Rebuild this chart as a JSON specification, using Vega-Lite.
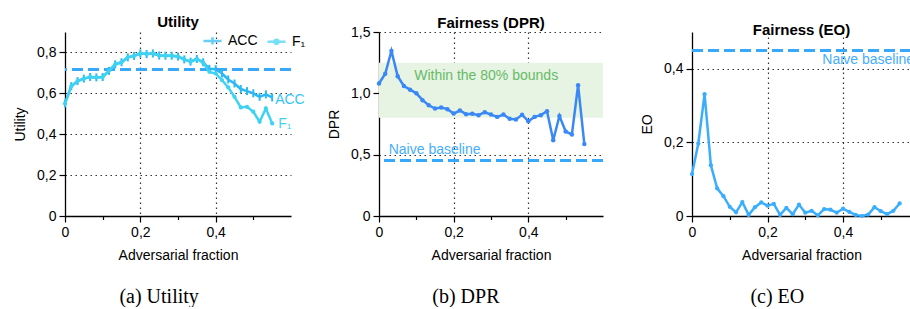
{
  "$schema": "https://vega.github.io/schema/vega-lite/v6.json",
  "background": "white",
  "padding": {"left": 13, "top": 15, "right": 0, "bottom": 0},
  "datasets": {
    "d": [
      {"x": 0, "acc": 0.55, "f1": 0.55, "dpr": 1.08, "eo": 0.114},
      {"x": 0.0167, "acc": 0.635, "f1": 0.635, "dpr": 1.16, "eo": 0.197},
      {"x": 0.0333, "acc": 0.66, "f1": 0.66, "dpr": 1.345, "eo": 0.331},
      {"x": 0.05, "acc": 0.672, "f1": 0.672, "dpr": 1.14, "eo": 0.138},
      {"x": 0.0667, "acc": 0.68, "f1": 0.68, "dpr": 1.06, "eo": 0.075},
      {"x": 0.0833, "acc": 0.678, "f1": 0.678, "dpr": 1.03, "eo": 0.054},
      {"x": 0.1, "acc": 0.68, "f1": 0.68, "dpr": 1.0, "eo": 0.025},
      {"x": 0.1167, "acc": 0.71, "f1": 0.71, "dpr": 0.944, "eo": 0.01},
      {"x": 0.1333, "acc": 0.742, "f1": 0.742, "dpr": 0.903, "eo": 0.038},
      {"x": 0.15, "acc": 0.752, "f1": 0.752, "dpr": 0.876, "eo": 0.003},
      {"x": 0.1667, "acc": 0.776, "f1": 0.776, "dpr": 0.884, "eo": 0.024},
      {"x": 0.1833, "acc": 0.783, "f1": 0.783, "dpr": 0.871, "eo": 0.037},
      {"x": 0.2, "acc": 0.795, "f1": 0.795, "dpr": 0.835, "eo": 0.028},
      {"x": 0.2167, "acc": 0.792, "f1": 0.792, "dpr": 0.86, "eo": 0.033},
      {"x": 0.2333, "acc": 0.795, "f1": 0.795, "dpr": 0.83, "eo": 0.003},
      {"x": 0.25, "acc": 0.785, "f1": 0.785, "dpr": 0.833, "eo": 0.022},
      {"x": 0.2667, "acc": 0.784, "f1": 0.784, "dpr": 0.822, "eo": 0.005},
      {"x": 0.2833, "acc": 0.784, "f1": 0.784, "dpr": 0.846, "eo": 0.031},
      {"x": 0.3, "acc": 0.78, "f1": 0.78, "dpr": 0.827, "eo": 0.009},
      {"x": 0.3167, "acc": 0.766, "f1": 0.766, "dpr": 0.808, "eo": 0.014},
      {"x": 0.3333, "acc": 0.755, "f1": 0.755, "dpr": 0.827, "eo": 0.002},
      {"x": 0.35, "acc": 0.768, "f1": 0.768, "dpr": 0.792, "eo": 0.019},
      {"x": 0.3667, "acc": 0.752, "f1": 0.75, "dpr": 0.787, "eo": 0.017},
      {"x": 0.3833, "acc": 0.72, "f1": 0.705, "dpr": 0.825, "eo": 0.009},
      {"x": 0.4, "acc": 0.718, "f1": 0.697, "dpr": 0.773, "eo": 0.02},
      {"x": 0.4167, "acc": 0.697, "f1": 0.665, "dpr": 0.808, "eo": 0.011},
      {"x": 0.4333, "acc": 0.668, "f1": 0.629, "dpr": 0.822, "eo": 0.003},
      {"x": 0.45, "acc": 0.648, "f1": 0.583, "dpr": 0.854, "eo": 0.0},
      {"x": 0.4667, "acc": 0.621, "f1": 0.531, "dpr": 0.618, "eo": 0.004},
      {"x": 0.4833, "acc": 0.611, "f1": 0.534, "dpr": 0.816, "eo": 0.024},
      {"x": 0.5, "acc": 0.6, "f1": 0.51, "dpr": 0.689, "eo": 0.013},
      {"x": 0.5167, "acc": 0.583, "f1": 0.461, "dpr": 0.665, "eo": 0.005},
      {"x": 0.5333, "acc": 0.595, "f1": 0.526, "dpr": 1.066, "eo": 0.014},
      {"x": 0.55, "acc": 0.58, "f1": 0.453, "dpr": 0.586, "eo": 0.034}
    ]
  },
  "spacing": 22,
  "hconcat": [
    {
      "title": {"text": "(a) Utility", "orient": "bottom", "anchor": "middle", "frame": "bounds", "font": "Liberation Serif", "fontSize": 20, "fontWeight": "normal", "offset": 25, "color": "black"},
      "vconcat": [
        {
          "title": {"text": "Utility", "anchor": "middle", "frame": "group", "fontSize": 15, "fontWeight": "bold", "offset": 2},
          "width": 226,
          "height": 184,
          "data": {"name": "d"},
          "layer": [
            {
              "mark": {"type": "line", "color": "#2cb8f3", "strokeWidth": 2.5},
              "encoding": {
                "x": {"field": "x", "type": "quantitative", "title": "Adversarial fraction", "scale": {"domain": [0, 0.6], "nice": false, "zero": false},
                  "axis": {"values": [0, 0.1, 0.2, 0.3, 0.4, 0.5], "labelOverlap": false, "labelFlush": false, "grid": true,
                    "labelExpr": "round(datum.value*10)%2==0 ? (datum.value==0 ? '0' : replace(format(datum.value,'.1f'),'.',',')) : ''",
                    "tickSize": {"condition": {"test": "round(datum.value*10)%2==0", "value": 6}, "value": 3.5},
                    "gridOpacity": {"condition": {"test": "round(datum.value*10)%2==0 && datum.value>0", "value": 1}, "value": 0}}},
                "y": {"field": "acc", "type": "quantitative", "title": "Utility", "scale": {"domain": [0, 0.9], "nice": false},
                  "axis": {"values": [0, 0.1, 0.2, 0.3, 0.4, 0.5, 0.6, 0.7, 0.8, 0.9], "labelOverlap": false, "labelFlush": false, "grid": true,
                    "labelExpr": "round(datum.value*10)%2==0 ? (datum.value==0 ? '0' : replace(format(datum.value,'.1f'),'.',',')) : ''",
                    "tickSize": {"condition": {"test": "round(datum.value*10)%2==0", "value": 6}, "value": 3.5},
                    "gridOpacity": {"condition": {"test": "round(datum.value*10)%2==0 && datum.value>0", "value": 1}, "value": 0}}}
              }
            },
            {
              "mark": {"type": "rule", "color": "#38a8fa", "strokeWidth": 2.5, "strokeDash": [11, 5]},
              "encoding": {"y": {"datum": 0.715, "type": "quantitative"}}
            },
            {
              "mark": {"type": "point", "shape": "M0,-1V1", "filled": false, "size": 64, "strokeWidth": 2, "color": "#2cb8f3", "opacity": 1},
              "encoding": {
                "x": {"field": "x", "type": "quantitative", "title": "Adversarial fraction"},
                "y": {"field": "acc", "type": "quantitative", "title": "Utility"}
              }
            },
            {
              "mark": {"type": "line", "color": "#3dd3f3", "strokeWidth": 2.5},
              "encoding": {
                "x": {"field": "x", "type": "quantitative", "title": "Adversarial fraction"},
                "y": {"field": "f1", "type": "quantitative", "title": "Utility"}
              }
            },
            {
              "mark": {"type": "point", "filled": true, "size": 18, "color": "#3dd3f3", "opacity": 1},
              "encoding": {
                "x": {"field": "x", "type": "quantitative", "title": "Adversarial fraction"},
                "y": {"field": "f1", "type": "quantitative", "title": "Utility"}
              }
            },
            {
              "transform": [{"filter": "datum.x == 0.55"}],
              "mark": {"type": "text", "text": "ACC", "align": "left", "baseline": "middle", "dx": 3, "dy": 3, "fontSize": 14, "color": "#36c4f7"},
              "encoding": {
                "x": {"field": "x", "type": "quantitative", "title": "Adversarial fraction"},
                "y": {"field": "acc", "type": "quantitative", "title": "Utility"}
              }
            },
            {
              "transform": [{"filter": "datum.x == 0.55"}],
              "mark": {"type": "text", "text": "F₁", "align": "left", "baseline": "middle", "dx": 6, "dy": 1, "fontSize": 14, "color": "#3fd3f3"},
              "encoding": {
                "x": {"field": "x", "type": "quantitative", "title": "Adversarial fraction"},
                "y": {"field": "f1", "type": "quantitative", "title": "Utility"}
              }
            },
            {
              "data": {"values": [{"m": "ACC"}, {"m": "F₁"}]},
              "mark": {"type": "point", "filled": false, "strokeWidth": 2.5},
              "encoding": {
                "x": {"field": "nx", "type": "quantitative", "title": "Adversarial fraction"},
                "y": {"field": "ny", "type": "quantitative", "title": "Utility"},
                "color": {"field": "m", "type": "nominal", "scale": {"domain": ["ACC", "F₁"], "range": ["#2cb8f3", "#3dd3f3"]},
                  "legend": {"orient": "none", "legendX": 137, "legendY": -2, "direction": "horizontal", "title": null, "symbolSize": 324, "symbolStrokeWidth": 2.5, "labelFontSize": 14, "labelColor": "black", "labelOffset": 5, "columnPadding": 4}},
                "shape": {"field": "m", "type": "nominal", "scale": {"domain": ["ACC", "F₁"], "range": ["M-1,0H1M0,-0.4V0.4", "M-1,0H1M0.22,0A0.22,0.22,0,1,1,-0.22,0A0.22,0.22,0,1,1,0.22,0"]}}
              }
            }
          ]
        }
      ]
    },
    {
      "spacing": 35,
      "hconcat": [
        {
          "title": {"text": "(b) DPR", "orient": "bottom", "anchor": "middle", "frame": "bounds", "font": "Liberation Serif", "fontSize": 20, "fontWeight": "normal", "offset": 25, "color": "black"},
          "vconcat": [
            {
              "title": {"text": "Fairness (DPR)", "anchor": "middle", "frame": "group", "fontSize": 15, "fontWeight": "bold", "offset": -6},
              "width": 224,
              "height": 184,
              "data": {"name": "d"},
              "layer": [
                {
                  "mark": {"type": "line", "color": "#3a88f5", "strokeWidth": 2.5, "opacity": 0},
                  "encoding": {
                    "x": {"field": "x", "type": "quantitative", "title": "Adversarial fraction", "scale": {"domain": [0, 0.6], "nice": false, "zero": false},
                      "axis": {"values": [0, 0.1, 0.2, 0.3, 0.4, 0.5], "labelOverlap": false, "labelFlush": false, "grid": true,
                        "labelExpr": "round(datum.value*10)%2==0 ? (datum.value==0 ? '0' : replace(format(datum.value,'.1f'),'.',',')) : ''",
                        "tickSize": {"condition": {"test": "round(datum.value*10)%2==0", "value": 6}, "value": 3.5},
                        "gridOpacity": {"condition": {"test": "round(datum.value*10)%2==0 && datum.value>0", "value": 1}, "value": 0}}},
                    "y": {"field": "dpr", "type": "quantitative", "title": "DPR", "scale": {"domain": [0, 1.5], "nice": false},
                      "axis": {"values": [0, 0.5, 1.0, 1.5], "labelOverlap": false, "labelFlush": false, "grid": true, "tickSize": 6,
                        "labelExpr": "datum.value==0 ? '0' : replace(format(datum.value,'.1f'),'.',',')"}}
                  }
                },
                {
                  "data": {"values": [{}]},
                  "mark": {"type": "rect", "color": "#e7f3e3", "opacity": 1},
                  "encoding": {
                    "x": {"datum": 0, "type": "quantitative"},
                    "x2": {"datum": 0.6},
                    "y": {"datum": 0.8, "type": "quantitative"},
                    "y2": {"datum": 1.25}
                  }
                },
                {
                  "data": {"values": [{}]},
                  "mark": {"type": "text", "text": "Within the 80% bounds", "align": "center", "baseline": "middle", "fontSize": 14, "color": "#66bb66"},
                  "encoding": {
                    "x": {"datum": 0.287, "type": "quantitative"},
                    "y": {"datum": 1.14, "type": "quantitative"}
                  }
                },
                {
                  "mark": {"type": "rule", "color": "#38a8fa", "strokeWidth": 2.5, "strokeDash": [11, 5]},
                  "encoding": {"y": {"datum": 0.455, "type": "quantitative"}}
                },
                {
                  "data": {"values": [{}]},
                  "mark": {"type": "text", "text": "Naive baseline", "align": "left", "baseline": "middle", "fontSize": 14, "color": "#45adff"},
                  "encoding": {
                    "x": {"datum": 0.026, "type": "quantitative"},
                    "y": {"datum": 0.537, "type": "quantitative"}
                  }
                },
                {
                  "mark": {"type": "line", "color": "#3a88f5", "strokeWidth": 2.5},
                  "encoding": {
                    "x": {"field": "x", "type": "quantitative", "title": "Adversarial fraction"},
                    "y": {"field": "dpr", "type": "quantitative", "title": "DPR"}
                  }
                },
                {
                  "mark": {"type": "point", "filled": true, "size": 20, "color": "#3a88f5", "opacity": 1},
                  "encoding": {
                    "x": {"field": "x", "type": "quantitative", "title": "Adversarial fraction"},
                    "y": {"field": "dpr", "type": "quantitative", "title": "DPR"}
                  }
                }
              ]
            }
          ]
        },
        {
          "title": {"text": "(c) EO", "orient": "bottom", "anchor": "middle", "frame": "bounds", "font": "Liberation Serif", "fontSize": 20, "fontWeight": "normal", "offset": 25, "color": "black"},
          "vconcat": [
            {
              "title": {"text": "Fairness (EO)", "anchor": "middle", "frame": "group", "fontSize": 15, "fontWeight": "bold", "offset": -6},
              "width": 219,
              "height": 184,
              "data": {"name": "d"},
              "layer": [
                {
                  "mark": {"type": "line", "color": "#3badfd", "strokeWidth": 2.5, "opacity": 0},
                  "encoding": {
                    "x": {"field": "x", "type": "quantitative", "title": "Adversarial fraction", "scale": {"domain": [0, 0.58], "nice": false, "zero": false},
                      "axis": {"values": [0, 0.1, 0.2, 0.3, 0.4, 0.5], "labelOverlap": false, "labelFlush": false, "grid": true,
                        "labelExpr": "round(datum.value*10)%2==0 ? (datum.value==0 ? '0' : replace(format(datum.value,'.1f'),'.',',')) : ''",
                        "tickSize": {"condition": {"test": "round(datum.value*10)%2==0", "value": 6}, "value": 3.5},
                        "gridOpacity": {"condition": {"test": "round(datum.value*10)%2==0 && datum.value>0", "value": 1}, "value": 0}}},
                    "y": {"field": "eo", "type": "quantitative", "title": "EO", "scale": {"domain": [0, 0.5], "nice": false},
                      "axis": {"values": [0, 0.1, 0.2, 0.3, 0.4, 0.5], "labelOverlap": false, "labelFlush": false,
                        "grid": true, "gridOpacity": 1, "tickSize": 6,
                        "labelExpr": "datum.value < 0.001 ? '0' : replace(format(datum.value,'.1f'),'.',',')"}}
                  }
                },
                {
                  "mark": {"type": "rule", "color": "#38a8fa", "strokeWidth": 2.5, "strokeDash": [11, 5]},
                  "encoding": {"y": {"datum": 0.45, "type": "quantitative"}}
                },
                {
                  "data": {"values": [{}]},
                  "mark": {"type": "text", "text": "Naive baseline", "align": "left", "baseline": "middle", "fontSize": 14, "color": "#45adff"},
                  "encoding": {
                    "x": {"datum": 0.345, "type": "quantitative"},
                    "y": {"datum": 0.423, "type": "quantitative"}
                  }
                },
                {
                  "mark": {"type": "line", "color": "#3badfd", "strokeWidth": 2.5},
                  "encoding": {
                    "x": {"field": "x", "type": "quantitative", "title": "Adversarial fraction"},
                    "y": {"field": "eo", "type": "quantitative", "title": "EO"}
                  }
                },
                {
                  "mark": {"type": "point", "filled": true, "size": 18, "color": "#3badfd", "opacity": 1},
                  "encoding": {
                    "x": {"field": "x", "type": "quantitative", "title": "Adversarial fraction"},
                    "y": {"field": "eo", "type": "quantitative", "title": "EO"}
                  }
                }
              ]
            }
          ]
        }
      ]
    }
  ],
  "config": {
    "font": "Liberation Sans",
    "view": {"stroke": null},
    "title": {"color": "black", "font": "Liberation Sans"},
    "axis": {
      "domainColor": "black",
      "domainWidth": 1.3,
      "tickColor": "black",
      "tickWidth": 1.2,
      "labelFontSize": 14,
      "labelColor": "black",
      "labelFont": "Liberation Sans",
      "labelPadding": 3,
      "labelFlush": false,
      "labelOverlap": false,
      "titleFontSize": 14,
      "titleFontWeight": "normal",
      "titleColor": "black",
      "titleFont": "Liberation Sans",
      "titlePadding": 9,
      "grid": true,
      "gridColor": "#333333",
      "gridDash": [1.5, 3.5],
      "gridWidth": 1.2
    }
  }
}
